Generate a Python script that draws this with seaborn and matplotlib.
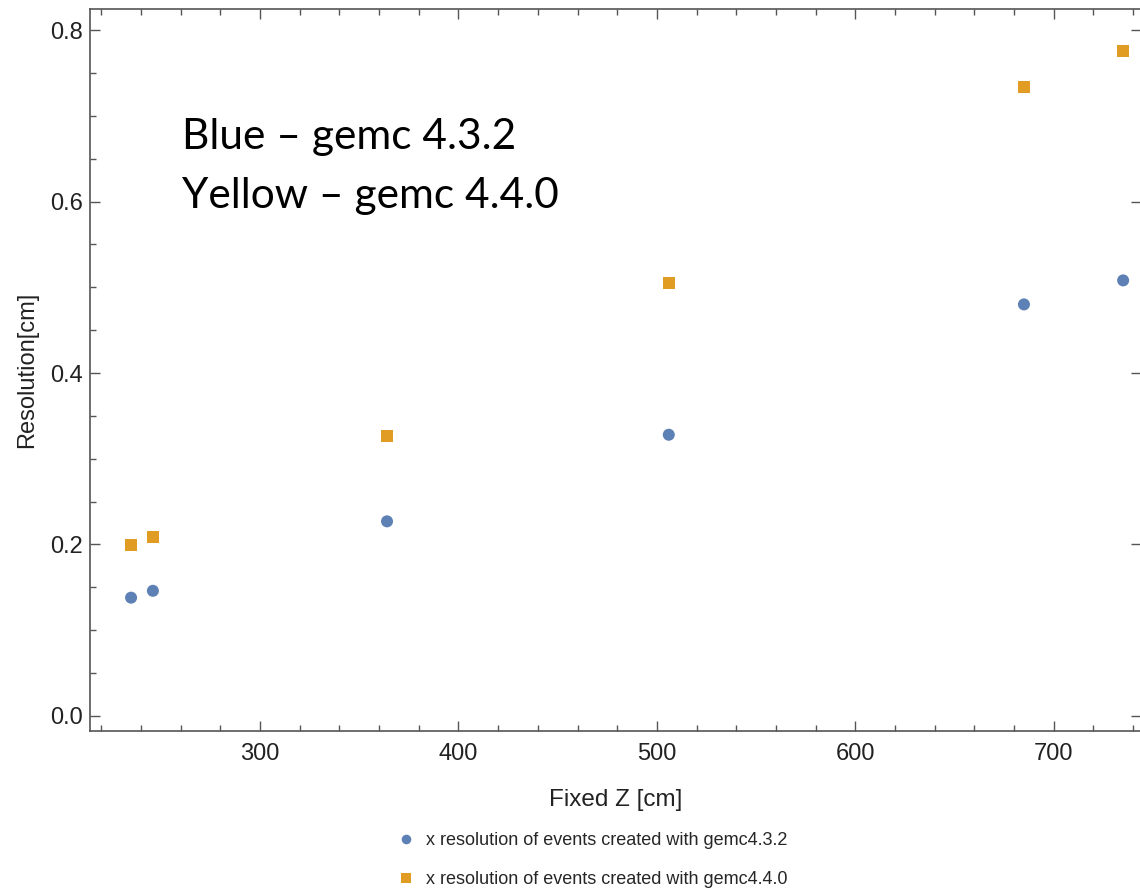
import matplotlib
matplotlib.use("Agg")
import matplotlib.pyplot as plt
import seaborn as sns
import pandas as pd
from matplotlib.ticker import MultipleLocator, FormatStrFormatter

z_values = [235, 246, 364, 506, 685, 735]
res_432 = [0.138, 0.146, 0.227, 0.328, 0.480, 0.508]
res_440 = [0.199, 0.209, 0.327, 0.505, 0.733, 0.776]
series_labels = ["x resolution of events created with gemc4.3.2",
                 "x resolution of events created with gemc4.4.0"]
note_lines = ["Blue \u2013 gemc 4.3.2", "Yellow \u2013 gemc 4.4.0"]

df = pd.DataFrame({
    "z": z_values * 2,
    "res": res_432 + res_440,
    "series": [series_labels[0]] * len(z_values) + [series_labels[1]] * len(z_values),
})

sns.set_style("white")
plt.rcParams["font.family"] = ["Liberation Sans", "DejaVu Sans"]

fig = plt.figure(figsize=(11.4, 8.89), dpi=100)
ax = fig.add_axes([90/1140, 158/889, 1051/1140, (731-9)/889])

palette = {series_labels[0]: "#5E81B5", series_labels[1]: "#E19C24"}
markers = {series_labels[0]: "o", series_labels[1]: "s"}
sns.scatterplot(data=df, x="z", y="res", hue="series", style="series",
                palette=palette, markers=markers, s=75, linewidth=0,
                ax=ax, legend=True)

ax.set_xlim(214.3, 744)
ax.set_ylim(-0.0175, 0.8245)
ax.xaxis.set_major_locator(MultipleLocator(100))
ax.xaxis.set_minor_locator(MultipleLocator(20))
ax.yaxis.set_major_locator(MultipleLocator(0.2))
ax.yaxis.set_minor_locator(MultipleLocator(0.05))
ax.yaxis.set_major_formatter(FormatStrFormatter("%.1f"))
ax.tick_params(which="both", direction="in", top=True, right=True, bottom=True, left=True,
               colors="#555555", labelcolor="#222222", labelsize=17, width=1)
ax.tick_params(which="minor", right=False)
ax.tick_params(which="major", length=7)
ax.tick_params(which="minor", length=4)
ax.tick_params(axis="y", which="major", pad=5)
ax.tick_params(axis="x", which="major", pad=9)
for sp in ax.spines.values():
    sp.set_color("#555555")
    sp.set_linewidth(1.2)
ax.spines["right"].set_visible(False)

ax.set_xlabel("Fixed Z [cm]", fontsize=17.5, color="#222222", labelpad=17)
ax.set_ylabel("Resolution[cm]", fontsize=17, color="#222222", labelpad=9)

handles, labels = ax.get_legend_handles_labels()
ax.get_legend().remove()
leg = fig.legend(handles, labels, loc="upper left", bbox_to_anchor=(390/1140, 1 - 825/889),
                 frameon=False, fontsize=13, labelspacing=1.2, handletextpad=0.6,
                 markerscale=0.8, handlelength=1.0, borderaxespad=0)

fig.text(182/1140, 1 - 149/889, note_lines[0], fontsize=30.5, family=["Lato", "DejaVu Sans"],
         color="black", va="baseline")
fig.text(182/1140, 1 - 208/889, note_lines[1], fontsize=30.5, family=["Lato", "DejaVu Sans"],
         color="black", va="baseline")

fig.savefig("out.png", dpi=100)
